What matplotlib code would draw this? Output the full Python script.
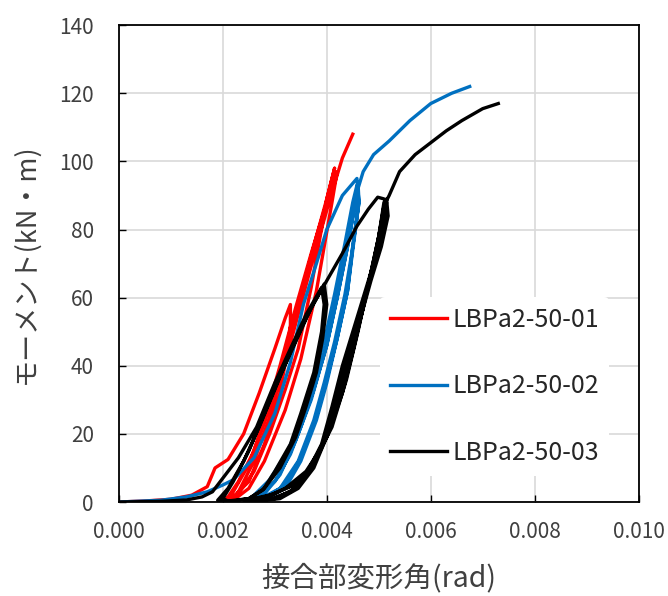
import matplotlib
matplotlib.use('Agg')
import matplotlib.pyplot as plt

plt.rcParams['font.family'] = ['Noto Sans CJK JP', 'DejaVu Sans']

# series names
labels = ['LBPa2-50-01', 'LBPa2-50-02', 'LBPa2-50-03']
colors = ['#FF0000', '#0070C0', '#000000']

# LBPa2-50-01 : joint rotation (rad) / moment (kN*m), cyclic path
r01_x = [0.0000, 0.0005, 0.0010, 0.0014, 0.0017, 0.00185, 0.0021, 0.0024, 0.0027, 0.0030, 0.0032, 0.0033,
         0.0033, 0.00325, 0.0031, 0.0028, 0.0025, 0.0022, 0.0020,
         0.0021, 0.0023, 0.0026, 0.0029, 0.0032, 0.0035, 0.0038, 0.0040, 0.00415,
         0.0040, 0.0037, 0.00345, 0.0032, 0.0029, 0.0026, 0.0023, 0.0021,
         0.0022, 0.0025, 0.0028, 0.0031, 0.0034, 0.0037, 0.0040, 0.0042,
         0.0041, 0.0038, 0.0035, 0.0032, 0.0028, 0.0025, 0.0022,
         0.0023, 0.0026, 0.0029, 0.0032, 0.0035, 0.0038, 0.0041, 0.0043, 0.0045]
r01_y = [0.0, 0.3, 0.8, 2.0, 4.5, 10.0, 12.5, 20.0, 32.0, 45.0, 54.0, 58.0,
         52.0, 45.0, 32.0, 17.0, 6.0, 1.5, 0.5,
         1.5, 6.0, 15.0, 28.0, 44.0, 61.0, 78.0, 89.0, 98.0,
         89.0, 63.0, 45.0, 33.0, 20.0, 9.0, 2.5, 0.5,
         3.0, 11.0, 24.0, 40.0, 57.0, 73.0, 88.0, 97.0,
         88.0, 62.0, 42.0, 27.0, 12.0, 4.0, 0.5,
         3.0, 12.0, 25.0, 41.0, 58.0, 75.0, 91.0, 101.0, 108.0]

# LBPa2-50-02
b02_x = [0.0000, 0.0008, 0.0013, 0.0017, 0.0020, 0.0022, 0.0026, 0.0030, 0.0033, 0.00355, 0.0038, 0.0040, 0.0043, 0.00458,
         0.00462, 0.0045, 0.0044, 0.0042, 0.0040, 0.0038, 0.0035, 0.0032, 0.0028,
         0.0026, 0.0030, 0.0033, 0.0035, 0.00375, 0.0040, 0.0042, 0.0044, 0.00455, 0.0046,
         0.00462, 0.0045, 0.0044, 0.0042, 0.0040, 0.0038, 0.0035, 0.0032, 0.0028,
         0.0025, 0.0029, 0.00325, 0.0035, 0.0037, 0.00395, 0.00415, 0.00435, 0.0045, 0.00458,
         0.0046, 0.00448, 0.00435, 0.00415, 0.00395, 0.00375, 0.00345, 0.0031, 0.0027,
         0.0027, 0.0031, 0.0034, 0.0037, 0.0040, 0.0042, 0.0044, 0.0046, 0.0047, 0.0049, 0.0052, 0.0056,
         0.0060, 0.0064, 0.00675]
b02_y = [0.0, 0.5, 1.5, 3.0, 5.0, 6.5, 13.0, 26.0, 41.0, 58.0, 70.0, 80.0, 90.0, 95.0,
         88.0, 75.0, 62.0, 48.0, 36.0, 25.0, 13.0, 5.0, 1.0,
         0.5, 6.0, 14.0, 22.0, 33.0, 46.0, 60.0, 75.0, 88.0, 94.0,
         88.0, 74.0, 62.0, 48.0, 35.0, 24.0, 12.0, 4.0, 0.8,
         0.5, 6.5, 15.0, 24.0, 34.0, 47.0, 61.0, 76.0, 88.0, 93.0,
         86.0, 73.0, 61.0, 47.0, 35.0, 24.0, 12.0, 4.0, 0.8,
         0.5, 8.0, 18.0, 30.0, 46.0, 60.0, 75.0, 92.0, 97.0, 102.0, 106.0, 112.0,
         117.0, 120.0, 122.0]

# LBPa2-50-03
k03_x = [0.0000, 0.0008, 0.0013, 0.0016, 0.0018, 0.0020, 0.0023, 0.00265, 0.0030, 0.0033, 0.0036, 0.0039,
         0.00395, 0.0039, 0.00375, 0.0035, 0.0033, 0.0030, 0.00277, 0.0025, 0.0022,
         0.0019, 0.0021, 0.0024, 0.0027, 0.0030, 0.0033, 0.0036, 0.00395,
         0.0040, 0.00392, 0.0038, 0.0036, 0.0034, 0.0031, 0.0028, 0.0025, 0.0021,
         0.0020, 0.0022, 0.0025, 0.0028, 0.0031, 0.0034, 0.0037, 0.0040, 0.0043, 0.00458, 0.0048, 0.00498, 0.0051,
         0.00515, 0.0051, 0.0049, 0.0047, 0.0045, 0.0043, 0.0041, 0.0039, 0.0036, 0.0033, 0.0029, 0.0025,
         0.0024, 0.0029, 0.0033, 0.0036, 0.0038, 0.0041, 0.00438, 0.0046, 0.0048, 0.0050, 0.0051,
         0.00513, 0.0050, 0.0048, 0.0046, 0.0044, 0.0042, 0.0040, 0.0037, 0.0034, 0.0030, 0.0026,
         0.0026, 0.0030, 0.0034, 0.0037, 0.0040, 0.0043, 0.0045, 0.0047, 0.0049, 0.00505, 0.00515,
         0.00518, 0.00505, 0.00485, 0.00465, 0.00445, 0.00425, 0.00405, 0.00375, 0.00345, 0.0031, 0.0027,
         0.0028, 0.0032, 0.0036, 0.0039, 0.0042, 0.0044, 0.0046, 0.0048, 0.0050, 0.0051, 0.0052,
         0.0054, 0.0057, 0.0060, 0.0063, 0.0066, 0.0070, 0.0073]
k03_y = [0.0, 0.2, 0.6, 1.5, 3.0, 7.0, 13.0, 22.0, 35.0, 45.0, 55.0, 63.0,
         58.0, 50.0, 38.0, 26.0, 17.0, 9.0, 3.5, 1.0, 0.3,
         0.5, 4.0, 12.0, 22.0, 33.0, 44.0, 54.0, 64.0,
         58.0, 48.0, 38.0, 28.0, 19.0, 10.0, 4.0, 1.0, 0.3,
         1.0, 6.0, 15.0, 26.0, 37.0, 47.0, 57.0, 65.0, 73.0, 81.0, 86.0, 89.5, 89.0,
         88.0, 80.0, 70.0, 60.0, 50.0, 40.0, 28.0, 17.0, 8.0, 3.0, 0.8, 0.2,
         0.5, 2.0, 4.5, 8.0, 13.0, 22.0, 36.0, 50.0, 64.0, 78.0, 88.0,
         84.0, 74.0, 64.0, 53.0, 42.0, 31.0, 20.0, 10.0, 4.0, 1.0, 0.3,
         0.6, 2.5, 5.5, 10.0, 19.0, 32.0, 44.0, 57.0, 70.0, 82.0, 89.0,
         84.0, 75.0, 65.0, 54.0, 43.0, 32.0, 21.0, 10.0, 4.0, 1.0, 0.3,
         1.0, 4.0, 9.0, 16.0, 28.0, 39.0, 51.0, 64.0, 78.0, 87.0, 90.0,
         97.0, 102.0, 105.5, 109.0, 112.0, 115.5, 117.0]

x_ticks = [0.000, 0.002, 0.004, 0.006, 0.008, 0.010]
y_ticks = [0, 20, 40, 60, 80, 100, 120, 140]

fig = plt.figure(figsize=(6.68, 5.96), dpi=100)
ax = fig.add_axes([0.178, 0.1577, 0.778, 0.800])

series = [(r01_x, r01_y), (b02_x, b02_y), (k03_x, k03_y)]
for (xs, ys), lab, col in zip(series, labels, colors):
    ax.plot(xs, ys, color=col, lw=2.4, label=lab, solid_joinstyle='round')

ax.set_xlim(0, 0.010)
ax.set_ylim(0, 140)
ax.set_xticks(x_ticks)
ax.set_xticklabels([f'{v:.3f}' for v in x_ticks])
ax.set_yticks(y_ticks)
ax.grid(True, color='#d9d9d9', lw=1.2)
ax.set_axisbelow(True)
ax.tick_params(direction='in', length=5, width=1, labelsize=15, colors='#000000',
               labelcolor='#404040')
ax.tick_params(axis='x', pad=14)
ax.tick_params(axis='y', pad=18)
for sp in ax.spines.values():
    sp.set_color('#000000')
    sp.set_linewidth(1.3)

ax.set_xlabel('接合部変形角(rad)', fontsize=20.5, color='#404040', labelpad=14)
ax.set_ylabel('モーメント(kN・m)', fontsize=19.5, color='#404040', labelpad=14)

leg = ax.legend(loc='upper left', bbox_to_anchor=(0.502, 0.43), fontsize=18,
                frameon=True, facecolor='white', edgecolor='none', framealpha=1,
                handlelength=2.3, handletextpad=0.2, labelspacing=1.62, borderpad=0.4,
                borderaxespad=0)
for t in leg.get_texts():
    t.set_color('#262626')

fig.savefig('out.png', dpi=100, facecolor='white')
